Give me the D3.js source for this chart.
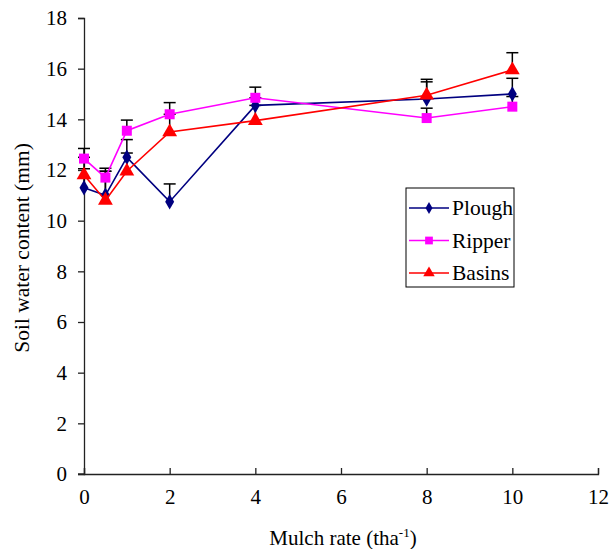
<!DOCTYPE html>
<html>
<head>
<meta charset="utf-8">
<script src="https://cdn.jsdelivr.net/npm/d3@7"></script>
<style>
  body { margin: 0; background: #fff; }
  svg text { font-family: "Liberation Serif", "Times New Roman", Times, serif !important; fill: #000; }
</style>
</head>
<body>
<div class="chart"></div>
<script>
// Data
var mulchRates = [0, 0.5, 1, 2, 4, 8, 10];
var plough = [11.3, 11.0, 12.5, 10.75, 14.55, 14.8, 15.0];
var ripper = [12.45, 11.7, 13.55, 14.2, 14.85, 14.05, 14.5];
var basins = [11.8, 10.8, 11.95, 13.5, 13.95, 14.95, 15.95];
// upward error bars
var ploughErr = [0.75, 0.95, 0.7, 0.7, 0.3, 0.68, 0.62];
var ripperErr = [0.4, 0.37, 0.42, 0.46, 0.42, 0.39, 0.4];
var basinsErr = [0.7, 1.15, 0.72, 0.7, 0.6, 0.63, 0.68];
var xTicks = [0, 2, 4, 6, 8, 10, 12];
var yTicks = [0, 2, 4, 6, 8, 10, 12, 14, 16, 18];

var svgWidth = 609;
var svgHeight = 549;
var margin = {top: 18, right: 11, bottom: 75, left: 84};
var width = svgWidth - margin.left - margin.right;
var height = svgHeight - margin.top - margin.bottom;

var svg = d3.select(".chart")
    .append("svg")
    .attr("width", svgWidth)
    .attr("height", svgHeight);

var chartGroup = svg.append("g")
    .attr("transform", "translate(" + margin.left + "," + margin.top + ")");

var xScale = d3.scaleLinear().domain([0, 12]).range([0, width]);
var yScale = d3.scaleLinear().domain([0, 18]).range([height, 0]);

// Axes
var bottomAxis = d3.axisBottom(xScale).tickValues(xTicks).tickSize(-6).tickPadding(15);
var leftAxis = d3.axisLeft(yScale).tickValues(yTicks).tickSize(6).tickPadding(11);

var xg = chartGroup.append("g")
    .attr("transform", `translate(0, ${height})`)
    .call(bottomAxis);
var yg = chartGroup.append("g").call(leftAxis);

[xg, yg].forEach(function(g) {
  g.attr("font-family", null).attr("font-size", null);
  g.select(".domain").attr("stroke", "#222").attr("stroke-width", 1.3);
  g.selectAll(".tick line").attr("stroke", "#222").attr("stroke-width", 1.3);
  g.selectAll(".tick text")
    .style("font-size", "21px")
    .attr("fill", "#000");
});
// small stub of the x axis on the left of origin
chartGroup.append("line")
  .attr("x1", -6).attr("x2", 0)
  .attr("y1", height).attr("y2", height)
  .attr("stroke", "#222").attr("stroke-width", 1.3);

var series = [
  {name: "Plough", values: plough, err: ploughErr, color: "#000080", shape: d3.symbolDiamond, size: 70},
  {name: "Ripper", values: ripper, err: ripperErr, color: "#FF00FF", shape: d3.symbolSquare, size: 100},
  {name: "Basins", values: basins, err: basinsErr, color: "#FF0000", shape: d3.symbolTriangle, size: 95}
];

// Error bars (up only) drawn first
series.forEach(function(s) {
  var eg = chartGroup.append("g");
  mulchRates.forEach(function(x, i) {
    var cx = xScale(x);
    var y0 = yScale(s.values[i]);
    var y1 = yScale(s.values[i] + s.err[i]);
    eg.append("line")
      .attr("x1", cx).attr("x2", cx).attr("y1", y0).attr("y2", y1)
      .attr("stroke", "#000").attr("stroke-width", 1.5);
    eg.append("line")
      .attr("x1", cx - 6).attr("x2", cx + 6).attr("y1", y1).attr("y2", y1)
      .attr("stroke", "#000").attr("stroke-width", 1.5);
  });
});

var line = d3.line()
  .x(d => xScale(d[0]))
  .y(d => yScale(d[1]));

series.forEach(function(s) {
  var pts = mulchRates.map((x, i) => [x, s.values[i]]);
  chartGroup.append("path")
    .datum(pts)
    .attr("d", line)
    .attr("fill", "none")
    .attr("stroke", s.color)
    .attr("stroke-width", 1.6);
  chartGroup.selectAll(null)
    .data(pts)
    .enter()
    .append("path")
    .attr("d", d3.symbol().type(s.shape).size(s.size))
    .attr("transform", d => `translate(${xScale(d[0])},${yScale(d[1])})`)
    .attr("fill", s.color);
});

// Legend
var legend = svg.append("g").attr("transform", "translate(406,188)");
legend.append("rect")
  .attr("width", 108).attr("height", 99)
  .attr("fill", "#fff").attr("stroke", "#000").attr("stroke-width", 1);
series.forEach(function(s, i) {
  var ly = 20 + i * 32.5;
  legend.append("line")
    .attr("x1", 3).attr("x2", 43).attr("y1", ly).attr("y2", ly)
    .attr("stroke", s.color).attr("stroke-width", 1.6);
  legend.append("path")
    .attr("d", d3.symbol().type(s.shape).size(s.size * 0.6))
    .attr("transform", `translate(23,${ly})`)
    .attr("fill", s.color);
  legend.append("text")
    .attr("x", 46).attr("y", ly + 7)
    .style("font-size", "21.5px")
    .text(s.name);
});

// Axis labels
svg.append("text")
  .attr("transform", "translate(29," + (margin.top + height / 2 + 2) + ") rotate(-90)")
  .attr("text-anchor", "middle")
  .style("font-size", "21.5px")
  .text("Soil water content (mm)");

var xl = svg.append("text")
  .attr("x", margin.left + width / 2 + 2)
  .attr("y", 545)
  .attr("text-anchor", "middle")
  .style("font-size", "21px");
xl.append("tspan").text("Mulch rate (tha");
xl.append("tspan").attr("dy", -8).style("font-size", "13px").text("-1");
xl.append("tspan").attr("dy", 8).text(")");
</script>
</body>
</html>
